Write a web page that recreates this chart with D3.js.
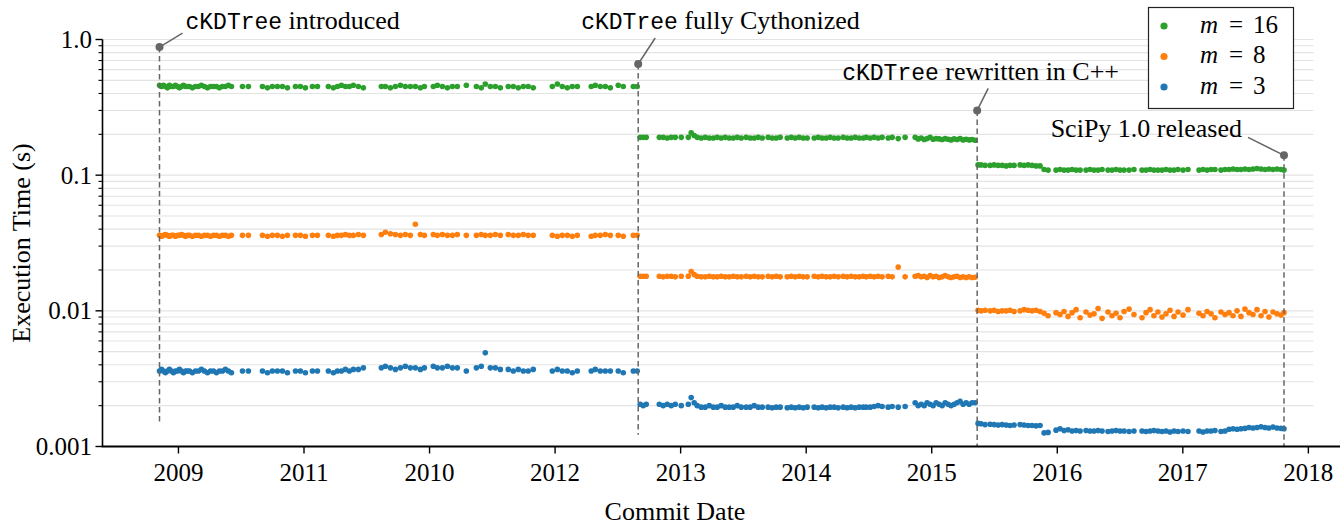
<!DOCTYPE html>
<html><head><meta charset="utf-8">
<script src="https://cdn.jsdelivr.net/npm/d3@7"></script>
<style>body{margin:0;background:#fff}svg{display:block}</style>
</head><body>
<svg id="c" width="1343" height="527"></svg>
<script>
// commit position (index along history)
const commitIdx = [
84.9,86.5,88.1,89.6,91.2,92.8,94.4,96.0,97.6,99.2,100.8,102.4,104.0,105.6,107.2,
108.8,111.1,113.5,115.9,118.3,120.7,123.1,125.5,127.9,130.3,132.6,135.0,137.4,139.8,142.2,
151.0,155.7,
166.9,170.9,174.8,178.8,182.8,186.8,
193.2,197.1,201.1,
206.7,210.7,
219.4,223.4,226.6,229.8,233.0,236.1,239.3,243.3,247.3,
261.6,264.8,268.8,272.8,276.8,280.7,284.7,288.7,292.7,295.9,
303.0,306.2,310.2,314.2,318.2,322.1,
329.3,
337.3,341.2,344.4,348.4,352.4,356.4,
362.7,366.7,370.7,374.7,378.6,382.6,
397.8,401.8,405.7,409.7,413.7,417.7,
428.8,432.0,436.0,440.0,444.0,
450.3,454.3,
462.3,465.4,
467.8,470.2,472.6,
483.0,486.1,489.3,492.5,495.7,500.5,
506.1,508.4,510.8,513.2,
516.4,519.6,522.8,526.0,529.1,532.3,535.5,538.7,
541.9,545.1,548.3,552.2,555.4,558.6,561.8,565.0,
569.7,572.9,576.1,579.3,584.9,588.1,591.2,594.4,597.6,600.8,
606.4,609.6,612.7,615.9,619.1,622.3,625.5,629.5,632.6,635.8,639.0,642.2,645.4,
647.8,651.0,654.1,657.3,660.5,665.3,668.5,673.3,678.8,
686.8,689.2,691.6,694.0,696.3,698.7,701.1,703.5,705.9,708.3,710.7,713.1,715.4,717.8,720.2,722.6,725.0,727.4,729.8,732.2,734.6,
736.9,739.3,742.5,746.5,749.7,752.9,756.1,759.3,762.4,765.6,770.4,773.6,776.8,779.9,783.1,786.3,
789.5,792.7,
799.0,802.2,805.4,808.6,811.8,815.0,818.2,822.9,826.1,829.3,832.5,835.7,840.4,843.6,846.8,850.0,853.2,857.2,861.1,
867.5,870.7,873.9,877.0,880.2,883.4,886.6,889.8,893.0,896.2,900.2,904.1,912.9,916.1,919.3,922.5,925.6,930.4,933.6,936.8,940.0,943.2,
946.3,949.5,952.7,955.9,959.1,962.3,965.5,968.6,971.8,975.0,978.2,980.6
];

const m16 = [
0.46,0.45,0.46,0.45,0.44,0.46,0.45,0.45,0.46,0.45,0.44,0.45,0.46,0.45,0.45,
0.45,0.44,0.45,0.45,0.46,0.45,0.44,0.45,0.45,0.45,0.44,0.45,0.45,0.46,0.45,
0.45,0.45,
0.45,0.44,0.45,0.45,0.45,0.44,
0.45,0.45,0.44,
0.45,0.45,
0.45,0.44,0.45,0.46,0.45,0.45,0.46,0.45,0.44,
0.45,0.45,0.44,0.45,0.46,0.45,0.45,0.45,0.44,0.45,
0.45,0.46,0.45,0.44,0.45,0.45,
0.46,
0.45,0.44,0.47,0.45,0.45,0.44,
0.45,0.45,0.44,0.45,0.45,0.44,
0.45,0.47,0.45,0.44,0.45,0.45,
0.45,0.46,0.45,0.45,0.44,
0.46,0.45,
0.45,0.45,
0.19,0.19,0.19,
0.19,0.19,0.188,0.19,0.19,0.19,
0.19,0.205,0.196,0.19,
0.188,0.19,0.188,0.188,0.19,0.188,0.19,0.188,
0.188,0.19,0.188,0.19,0.188,0.188,0.19,0.188,
0.19,0.188,0.188,0.19,0.188,0.19,0.188,0.19,0.188,0.188,
0.188,0.19,0.188,0.188,0.19,0.188,0.188,0.19,0.188,0.188,0.19,0.188,0.188,
0.19,0.188,0.19,0.188,0.19,0.188,0.19,0.186,0.19,
0.19,0.185,0.188,0.183,0.186,0.19,0.184,0.186,0.185,0.183,0.186,0.184,0.182,0.185,0.183,0.186,0.182,0.184,0.182,0.183,0.181,
0.119,0.119,0.118,0.118,0.119,0.118,0.118,0.117,0.118,0.118,0.119,0.118,0.119,0.118,0.117,0.117,
0.11,0.109,0.109,0.11,0.109,0.109,0.11,0.109,0.109,0.109,0.11,0.109,0.109,0.11,0.109,0.109,0.11,0.109,0.109,0.109,0.11,
0.109,0.109,0.11,0.109,0.109,0.109,0.11,0.109,0.109,0.11,0.109,0.11,0.109,0.11,0.109,0.11,0.11,0.109,0.11,0.11,0.111,0.11,
0.11,0.111,0.11,0.111,0.112,0.111,0.11,0.111,0.11,0.111,0.11,0.109
];

const m8 = [
0.036,0.0355,0.036,0.0365,0.036,0.0355,0.036,0.036,0.0355,0.036,0.036,0.0365,0.036,0.0355,0.036,
0.036,0.0355,0.036,0.036,0.0355,0.036,0.036,0.0355,0.036,0.036,0.0355,0.036,0.036,0.0355,0.036,
0.036,0.036,
0.036,0.0355,0.036,0.036,0.0355,0.036,
0.036,0.036,0.0355,
0.036,0.036,
0.036,0.0355,0.036,0.036,0.0365,0.036,0.036,0.0365,0.036,
0.0365,0.038,0.037,0.0365,0.036,0.0365,0.036,0.0435,0.0365,0.036,
0.0365,0.036,0.0365,0.036,0.036,0.0365,
0.036,
0.036,0.0365,0.036,0.036,0.0365,0.036,
0.0365,0.036,0.036,0.0365,0.036,0.036,
0.036,0.0355,0.036,0.036,0.0355,0.036,
0.0355,0.036,0.036,0.0365,0.036,
0.036,0.0355,
0.036,0.036,
0.018,0.018,0.018,
0.018,0.0178,0.018,0.018,0.0178,0.018,
0.018,0.0195,0.0185,0.018,
0.0178,0.0178,0.018,0.0178,0.0178,0.018,0.0178,0.0178,
0.018,0.0178,0.0178,0.018,0.0178,0.018,0.0178,0.0178,
0.018,0.0178,0.018,0.0178,0.0178,0.018,0.0178,0.018,0.0178,0.0178,
0.018,0.0178,0.018,0.0178,0.0178,0.018,0.0178,0.018,0.0178,0.018,0.0178,0.0178,0.018,
0.0178,0.018,0.0178,0.018,0.0178,0.018,0.0178,0.021,0.0178,
0.018,0.0182,0.0178,0.018,0.0176,0.0182,0.0178,0.018,0.0176,0.0178,0.0182,0.0178,0.0176,0.0178,0.018,0.0176,0.0178,0.0176,0.0178,0.0176,0.0177,
0.0101,0.01,0.0101,0.01,0.0101,0.0099,0.01,0.01,0.0101,0.0099,0.01,0.0102,0.0101,0.01,0.0101,0.0099,
0.0096,0.0092,0.0097,0.0094,0.0099,0.0091,0.0097,0.0102,0.0089,0.0098,0.0093,0.0095,0.0104,0.0088,0.0098,0.0092,0.0096,0.0089,0.0099,0.0103,0.0094,
0.0089,0.0097,0.0102,0.0092,0.0098,0.009,0.0095,0.0101,0.0091,0.0098,0.0093,0.0102,0.0096,0.0092,0.0099,0.0095,0.0089,0.0098,0.0094,0.0097,0.0092,0.01,
0.0091,0.0103,0.0097,0.0094,0.0102,0.0092,0.0099,0.009,0.0098,0.0095,0.0093,0.0097
];

const m3 = [
0.0036,0.0037,0.0036,0.0035,0.0036,0.0037,0.0036,0.0035,0.0036,0.0036,0.0037,0.0036,0.0035,0.0036,0.0036,
0.0036,0.0035,0.0036,0.0036,0.0037,0.0036,0.0035,0.0036,0.0036,0.0035,0.0036,0.0036,0.0037,0.0036,0.0035,
0.0036,0.0036,
0.0036,0.0035,0.0036,0.0036,0.0036,0.0035,
0.0036,0.0036,0.0035,
0.0036,0.0036,
0.0036,0.0035,0.0036,0.0036,0.0037,0.0036,0.0037,0.0037,0.0038,
0.0038,0.0039,0.0038,0.0037,0.0038,0.0039,0.0038,0.0038,0.0037,0.0038,
0.0039,0.0038,0.0038,0.0039,0.0038,0.0038,
0.0036,
0.0038,0.0039,0.0049,0.0038,0.0038,0.0037,
0.0037,0.0036,0.0037,0.0036,0.0036,0.0037,
0.0036,0.0037,0.0036,0.0036,0.0035,0.0036,
0.0036,0.0037,0.0036,0.0036,0.0036,
0.0036,0.0035,
0.0036,0.0036,
0.00205,0.002,0.00205,
0.00205,0.002,0.00205,0.002,0.00205,0.002,
0.00205,0.0023,0.0021,0.002,
0.00195,0.00195,0.002,0.00195,0.00195,0.002,0.00195,0.00195,
0.00195,0.002,0.00195,0.00195,0.00195,0.002,0.00195,0.00195,
0.00195,0.00193,0.00195,0.00195,0.00193,0.00195,0.00193,0.00195,0.00193,0.00195,
0.00195,0.00193,0.00195,0.00193,0.00195,0.00195,0.00193,0.00195,0.00193,0.00195,0.00193,0.00195,0.00195,
0.00195,0.00195,0.00197,0.002,0.00197,0.00195,0.00197,0.00195,0.00197,
0.0021,0.002,0.00205,0.002,0.0021,0.00205,0.002,0.0021,0.00205,0.002,0.0021,0.00205,0.002,0.00205,0.0021,0.00215,0.00205,0.0021,0.00205,0.0021,0.0021,
0.00148,0.00147,0.00145,0.00146,0.00145,0.00144,0.00145,0.00144,0.00143,0.00144,0.00145,0.00144,0.00143,0.00143,0.00142,0.00143,
0.00126,0.00127,
0.00132,0.00135,0.00131,0.00133,0.0013,0.00131,0.0013,0.00131,0.0013,0.0013,0.00131,0.0013,0.00129,0.0013,0.00131,0.0013,0.0013,0.00129,0.0013,
0.0013,0.00129,0.0013,0.00131,0.0013,0.00129,0.0013,0.00128,0.0013,0.00129,0.0013,0.00129,0.0013,0.00128,0.0013,0.0013,0.00131,0.00129,0.0013,0.00134,0.00135,0.00134,
0.00135,0.00136,0.00138,0.00137,0.00138,0.0014,0.00138,0.00137,0.00139,0.00137,0.00136,0.00135
];

const seriesLabels = ["16", "8", "3"];
const seriesColors = ["#2ca02c", "#ff7f0e", "#1f77b4"];

const xTickPos = [100, 200, 300, 400, 500, 600, 700, 800, 900, 1000];
const xTickLabels = ["2009", "2011", "2010", "2012", "2013", "2014", "2015", "2016", "2017", "2018"];
const yTickVals = [1.0, 0.1, 0.01, 0.001];
const yTickLabels = ["1.0", "0.1", "0.01", "0.001"];

const eventX = [84.9, 466.2, 736.2, 980.6];
const eventTop = [0.88, 0.66, 0.30, 0.14];
const eventBottom = [0.00149, 0.00122, 0.001, 0.001];
const eventCode = ["cKDTree", "cKDTree", "cKDTree", ""];
const eventText = [" introduced", " fully Cythonized", " rewritten in C++", "SciPy 1.0 released"];

// ---- drawing ----
const svg = d3.select("#c");
const SERIF = "'Liberation Serif', 'Times New Roman', serif";
const MONO = "'Liberation Mono', 'DejaVu Sans Mono', monospace";

const x = d3.scaleLinear().domain([39.5, 1025.2]).range([102.5, 1340]);
const y = d3.scaleLog().domain([0.001, 1]).range([446.5, 39.5]);
const gridEnd = x(1004);

// gridlines (major + minor)
const gridVals = [];
for (let e = -3; e < 0; e++) for (let k = 1; k <= 9; k++) gridVals.push(k * Math.pow(10, e));
gridVals.push(1);
svg.append("g").selectAll("line").data(gridVals).join("line")
  .attr("x1", x.range()[0]).attr("x2", gridEnd)
  .attr("y1", d => y(d)).attr("y2", d => y(d))
  .attr("stroke", "#e3e3e3").attr("stroke-width", 1.1);

// scatter points
const series = [m16, m8, m3];
series.forEach((vals, si) => {
  const n = Math.min(vals.length, commitIdx.length);
  const pts = d3.range(n).map(i => [commitIdx[i], vals[i]]);
  svg.append("g").selectAll("circle").data(pts).join("circle")
    .attr("cx", d => x(d[0])).attr("cy", d => y(d[1])).attr("r", 2.8)
    .attr("fill", seriesColors[si]);
});

// event markers
const ev = d3.range(eventX.length);
const offs = [
  {tx: 26, ty: -18, lx: 23, ly: -14, anchor: "start"},
  {tx: -57, ty: -35, lx: 17, ly: -26, anchor: "start"},
  {tx: -135, ty: -30, lx: 11, ly: -22, anchor: "start"},
  {tx: -42, ty: -18, lx: -36, ly: -18, anchor: "end"}
];
const gEv = svg.append("g");
ev.forEach(i => {
  const cx = x(eventX[i]), cy = y(eventTop[i]);
  gEv.append("line").attr("x1", cx).attr("x2", cx)
    .attr("y1", cy).attr("y2", y(eventBottom[i]))
    .attr("stroke", "#666").attr("stroke-width", 1.5).attr("stroke-dasharray", "5.5,3.5");
  gEv.append("line").attr("x1", cx).attr("y1", cy)
    .attr("x2", cx + offs[i].lx).attr("y2", cy + offs[i].ly)
    .attr("stroke", "#666").attr("stroke-width", 1.5);
  gEv.append("circle").attr("cx", cx).attr("cy", cy).attr("r", 4).attr("fill", "#666");
  const t = gEv.append("text").attr("x", cx + offs[i].tx).attr("y", cy + offs[i].ty)
    .attr("text-anchor", offs[i].anchor).attr("fill", "#000");
  if (eventCode[i]) t.append("tspan").attr("font-family", MONO).attr("font-size", 23).text(eventCode[i]);
  t.append("tspan").attr("font-family", SERIF).attr("font-size", 26)
    .style("white-space", "pre").text(eventText[i]);
});

// y axis
const gy = svg.append("g");
gy.append("line").attr("x1", 102.5).attr("x2", 102.5).attr("y1", y(1)).attr("y2", y(0.001))
  .attr("stroke", "#000").attr("stroke-width", 1.6);
gy.selectAll(".minor").data(gridVals.filter(v => yTickVals.indexOf(v) < 0 && Math.abs(Math.log10(v) % 1) > 1e-9))
  .join("line").attr("x1", 102.5).attr("x2", 98.5).attr("y1", d => y(d)).attr("y2", d => y(d))
  .attr("stroke", "#000").attr("stroke-width", 1.1);
gy.selectAll(".major").data(yTickVals).join("line")
  .attr("x1", 102.5).attr("x2", 95.5).attr("y1", d => y(d)).attr("y2", d => y(d))
  .attr("stroke", "#000").attr("stroke-width", 1.4);
gy.selectAll("text").data(yTickVals).join("text")
  .attr("x", 92).attr("y", d => y(d)).attr("dy", "0.34em").attr("text-anchor", "end")
  .attr("font-family", SERIF).attr("font-size", 25).text((d, i) => yTickLabels[i]);

// x axis
const gx = svg.append("g");
gx.append("line").attr("x1", 101.7).attr("x2", 1340).attr("y1", 446.5).attr("y2", 446.5)
  .attr("stroke", "#000").attr("stroke-width", 2);
gx.selectAll("line.t").data(xTickPos).join("line").attr("class", "t")
  .attr("x1", d => x(d)).attr("x2", d => x(d)).attr("y1", 446.5).attr("y2", 453.5)
  .attr("stroke", "#000").attr("stroke-width", 1.4);
gx.selectAll("text").data(xTickPos).join("text")
  .attr("x", d => x(d)).attr("y", 481).attr("text-anchor", "middle")
  .attr("font-family", SERIF).attr("font-size", 25).text((d, i) => xTickLabels[i]);

// axis titles
svg.append("text").attr("x", 675).attr("y", 520).attr("text-anchor", "middle")
  .attr("font-family", SERIF).attr("font-size", 26).text("Commit Date");
svg.append("text").attr("transform", "translate(30,243) rotate(-90)").attr("text-anchor", "middle")
  .attr("font-family", SERIF).attr("font-size", 26).text("Execution Time (s)");

// legend
const lg = svg.append("g").attr("transform", "translate(1148.5,7.5)");
lg.append("rect").attr("width", 145).attr("height", 101).attr("fill", "#fff")
  .attr("stroke", "#222").attr("stroke-width", 1.2);
seriesLabels.forEach((lab, i) => {
  const cy = 18.5 + i * 30.5;
  lg.append("circle").attr("cx", 15.5).attr("cy", cy).attr("r", 3.6).attr("fill", seriesColors[i]);
  lg.append("text").attr("x", 51.5).attr("y", cy + 6.5).attr("font-family", SERIF)
    .attr("font-size", 25).attr("font-style", "italic").text("m");
  lg.append("text").attr("x", 87.5).attr("y", cy + 6.5).attr("text-anchor", "middle").attr("font-family", SERIF)
    .attr("font-size", 25).text("=");
  lg.append("text").attr("x", 104.5).attr("y", cy + 6.5).attr("font-family", SERIF)
    .attr("font-size", 25).text(lab);
});
</script>
</body></html>
